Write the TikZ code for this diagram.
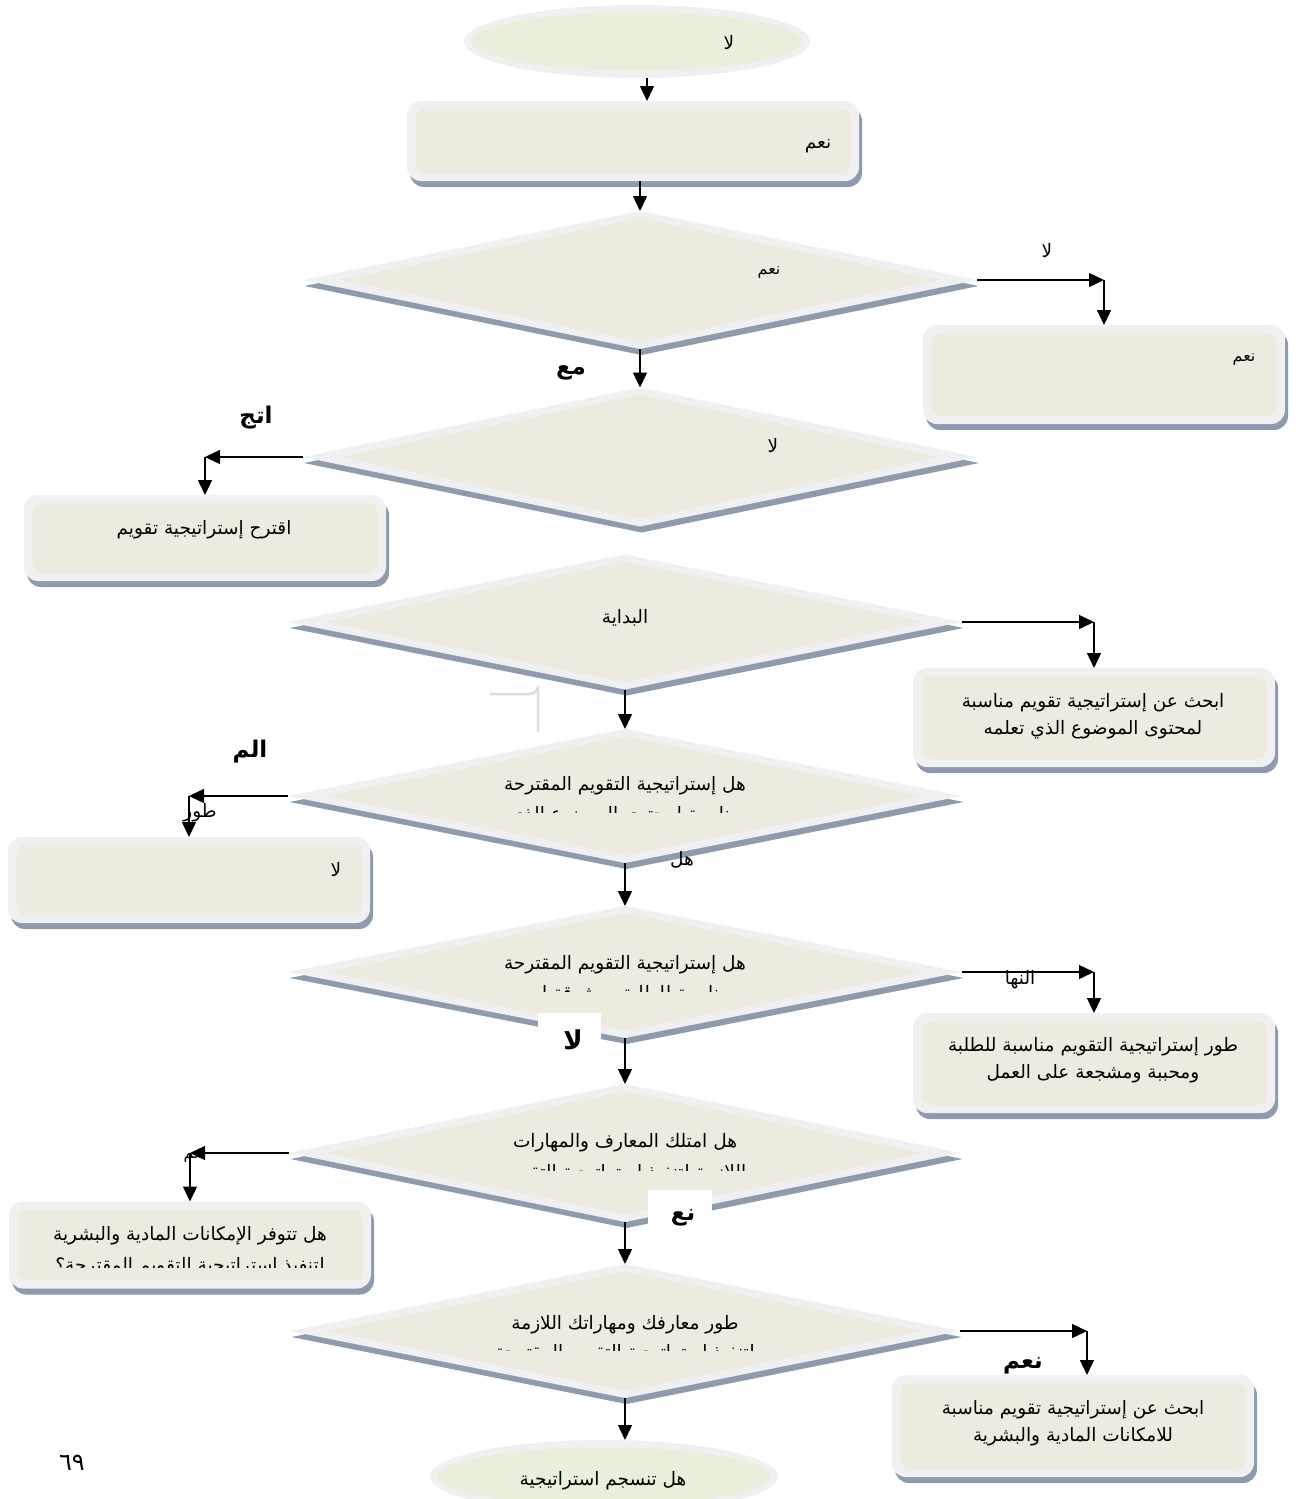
\documentclass[tikz,border=0pt]{standalone}
\usepackage{fontspec}
\usetikzlibrary{shapes.geometric,arrows.meta,calc}
\newfontfamily\arabicfont[Script=Arabic]{DejaVu Sans}
\TeXXeTstate=1
\definecolor{beige}{HTML}{EDEBE0}
\definecolor{rim}{HTML}{F0F0F0}
\definecolor{shade}{HTML}{8E9AAE}
\definecolor{pale}{HTML}{E8F0DB}
\newcommand\ar[1]{\beginR #1\endR}
\newcommand\boxpair[5]{%
  \node[rimbox, minimum width={#4*1pt}, minimum height={#5*1pt}] (#1) at (#2,#3) {};
  \node[corebox, minimum width={(#4-17)*1pt}, minimum height={(#5-16)*1pt}] (#1i) at (#2,#3) {};}
\newcommand\diapair[5]{%
  \node[rimdia, minimum width={#4*1pt}, minimum height={#5*1pt}] (#1) at (#2,#3) {};
  \node[coredia, minimum width={(#4-76)*1pt}, minimum height={(#5-15)*1pt}] (#1i) at (#2,#3) {};}
\begin{document}
\begin{tikzpicture}[x=1pt,y=-1pt,
  rimbox/.style={rectangle, rounded corners=14pt, fill=rim, inner sep=0pt, outer sep=0pt,
     preaction={fill=shade, transform canvas={shift={(3pt,-6pt)}}}},
  corebox/.style={rectangle, rounded corners=9pt, fill=beige, inner sep=0pt, outer sep=0pt},
  rimdia/.style={diamond, fill=rim, inner sep=0pt, outer sep=0pt,
     preaction={fill=shade, transform canvas={shift={(1.5pt,-6pt)}}}},
  coredia/.style={diamond, fill=beige, inner sep=0pt, outer sep=0pt},
  rimell/.style={ellipse, fill=rim, inner sep=0pt, outer sep=0pt},
  coreell/.style={ellipse, fill=pale, inner sep=0pt, outer sep=0pt},
  txt/.style={font=\arabicfont\fontsize{18.5}{27}\selectfont, inner sep=0pt, align=center, text=black},
  small/.style={font=\arabicfont\fontsize{16}{18}\selectfont, inner sep=0pt, text=black},
  lbl/.style={font=\arabicfont\bfseries\fontsize{23}{26}\selectfont, inner sep=0pt, text=black},
  arr/.style={line width=1.4pt, -{Triangle[length=15pt,width=14pt]}},
  whitebox/.style={fill=white, inner sep=0pt, outer sep=0pt}]
\fill[white] (0,0) rectangle (1298,1499);
\clip (0,0) rectangle (1298,1499);

% ---- shapes ----
\node[rimell, minimum width=346pt, minimum height=73pt] (ell1) at (637,41.5) {};
\node[coreell, minimum width=331pt, minimum height=58pt] (ell1i) at (637,41.5) {};
\boxpair{r1}{633}{141}{452}{80}
\diapair{d1}{640}{280}{674}{138}
\boxpair{r2}{1104}{374.5}{362}{99}
\diapair{d2}{640}{457}{675}{139}
\boxpair{r3}{205}{538}{362}{86}
\diapair{d3}{625}{622}{674}{135}
\boxpair{r4}{1094}{717.5}{362}{99}
\draw[draw=rim!85!gray, line width=2.5pt] (490,694) -- (530,694) arc[start angle=90, end angle=0, radius=8] -- (538,732);
\diapair{d4}{625}{796}{674}{134}
\boxpair{r5}{189}{880}{362}{86}
\diapair{d5}{625}{972}{674}{132}
\boxpair{r6}{1094}{1063}{362}{100}
\diapair{d6}{625}{1153}{672}{138}
\boxpair{r7}{190}{1245}{362}{87}
\diapair{d7}{625}{1331}{670}{134}
\boxpair{r8}{1073}{1426}{362}{102}
\node[rimell, minimum width=348pt, minimum height=73pt] (ell2) at (604,1476.5) {};
\node[coreell, minimum width=333pt, minimum height=58pt] (ell2i) at (604,1476.5) {};

% ---- connectors ----
\coordinate (a0) at ($(ell1.south)+(10,0)$);
\draw[arr] (a0) -- (a0 |- r1.north);
\draw[arr] (r1.south -| d1.north) -- (d1.north);
\draw[arr] (d1.south) -- (d2.north);
\draw[arr] (d3.south) -- (d4.north);
\draw[arr] (d4.south) -- (d5.north);
\draw[arr] (d5.south) -- (d6.north);
\draw[arr] (d6.south) -- (d7.north);
\draw[arr] (d7.south) -- (d7.south |- ell2.north);

\coordinate (c1) at (d1.east -| r2.north);
\draw[arr] (d1.east) -- (c1);
\draw[arr] (c1) -- (r2.north);
\coordinate (c2) at (d2.west -| r3.north);
\draw[arr] (d2.west) -- (c2);
\draw[arr] (c2) -- (r3.north);
\coordinate (c3) at (d3.east -| r4.north);
\draw[arr] (d3.east) -- (c3);
\draw[arr] (c3) -- (r4.north);
\coordinate (c4) at (d4.west -| r5.north);
\draw[arr] (d4.west) -- (c4);
\draw[arr] (c4) -- (r5.north);
\coordinate (c5) at (d5.east -| r6.north);
\draw[arr] (d5.east) -- (c5);
\draw[arr] (c5) -- (r6.north);
\coordinate (c6) at (d6.west -| r7.north);
\draw[arr] (d6.west) -- (c6);
\draw[arr] (c6) -- (r7.north);
\coordinate (c7) at ($(d7.east -| r8.north)+(14,0)$);
\draw[arr] (d7.east) -- (c7);
\draw[arr] (c7) -- (c7 |- r8.north);

% ---- white label boxes ----
\node[whitebox, minimum width=63pt, minimum height=40pt] (wb1) at (569.5,1033) {};
\node[whitebox, minimum width=64pt, minimum height=44pt] (wb2) at (680,1212) {};

% ---- texts ----
\node[txt] (t0) at (729,43) {\ar{لا}};
\node[txt] (t1) at (818,146) {\ar{نعم}};
\node[small] (t2) at (769,273) {\ar{نعم}};
\node[txt] (t3) at (1047,251) {\ar{لا}};
\node[small] (t4) at (1244,360) {\ar{نعم}};
\node[lbl] (t5) at (571,373) {\ar{مع}};
\node[txt] (t6) at (773,446) {\ar{لا}};
\node[lbl] (t7) at (256,418) {\ar{اتج}};
\node[txt] (t8) at (204,530) {\ar{اقترح إستراتيجية تقويم}};
\node[txt] (t9) at (625,618) {\ar{البداية}};
\node[txt] (t10) at (1093,716) {\ar{ابحث عن إستراتيجية تقويم مناسبة}\\\ar{لمحتوى الموضوع الذي تعلمه}};
\node[txt] (t11) at (625,786) {\ar{هل إستراتيجية التقويم المقترحة}};
\begin{scope}
  \clip (420,800) rectangle (830,812);
  \node[txt, anchor=base] (t11b) at (625,820) {\ar{مناسبة لمحتوى الموضوع الذي}};
\end{scope}
\node[txt] (t12) at (682,860) {\ar{هل}};
\node[lbl] (t13) at (250,752) {\ar{الم}};
\node[txt] (t14) at (200,813) {\ar{طور}};
\node[txt] (t15) at (336,870) {\ar{لا}};
\node[txt] (t16) at (625,965) {\ar{هل إستراتيجية التقويم المقترحة}};
\begin{scope}
  \clip (420,978) rectangle (830,991);
  \node[txt, anchor=base] (t16b) at (625,999) {\ar{مناسبة للطلبة ومشوقة لهم}};
\end{scope}
\node[txt] (t17) at (1020,980) {\ar{النها}};
\node[txt] (t18) at (1093,1060) {\ar{طور إستراتيجية التقويم مناسبة للطلبة}\\\ar{ومحببة ومشجعة على العمل}};
\node[lbl, font=\arabicfont\bfseries\fontsize{26}{28}\selectfont] (t19) at (573,1040) {\ar{لا}};
\node[txt] (t20) at (625,1143) {\ar{هل امتلك المعارف والمهارات}};
\begin{scope}
  \clip (420,1158) rectangle (830,1170);
  \node[txt, anchor=base] (t20b) at (625,1178) {\ar{اللازمة لتنفيذ إستراتيجية التقويم}};
\end{scope}
\node[small] (t21) at (195,1157) {\ar{نعم}};
\node[lbl] (t22) at (683,1218) {\ar{نع}};
\node[txt] (t23) at (190,1236) {\ar{هل تتوفر الإمكانات المادية والبشرية}};
\begin{scope}
  \clip (20,1248) rectangle (360,1267);
  \node[txt, anchor=base] (t23b) at (190,1271) {\ar{لتنفيذ استراتيجية التقويم المقترحة؟}};
\end{scope}
\node[txt] (t24) at (625,1325) {\ar{طور معارفك ومهاراتك اللازمة}};
\begin{scope}
  \clip (420,1338) rectangle (830,1350);
  \node[txt, anchor=base] (t24b) at (625,1358) {\ar{لتنفيذ إستراتيجية التقويم المقترحة}};
\end{scope}
\node[lbl] (t25) at (1023,1366) {\ar{نعم}};
\node[txt] (t26) at (1073,1423) {\ar{ابحث عن إستراتيجية تقويم مناسبة}\\\ar{للامكانات المادية والبشرية}};
\begin{scope}
  \clip (430,1460) rectangle (780,1489);
  \node[txt] (t27) at (603,1481) {\ar{هل تنسجم استراتيجية}};
\end{scope}
\node[txt, font=\arabicfont\fontsize{24}{26}\selectfont] (t28) at (72,1463) {٦٩};
\end{tikzpicture}
\end{document}
